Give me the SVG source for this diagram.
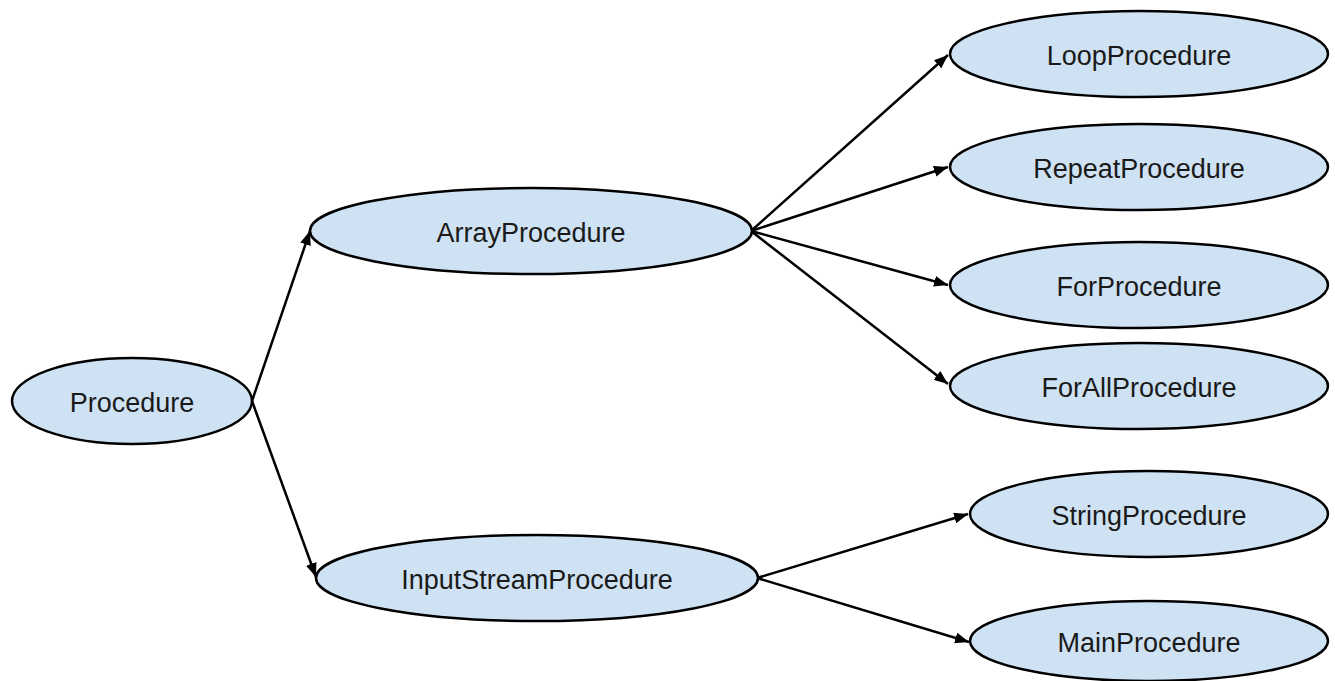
<svg xmlns="http://www.w3.org/2000/svg" width="1335" height="681" viewBox="0 0 1335 681">
<defs>
<marker id="arr" viewBox="0 0 14 11" refX="14" refY="5.5" markerWidth="14" markerHeight="11" markerUnits="userSpaceOnUse" orient="auto">
<path d="M0,0 L14,5.5 L0,11 z" fill="#000"/>
</marker>
<style>
.n ellipse{fill:#cfe2f3;stroke:#000;stroke-width:2.5}
.n text{font-family:"Liberation Sans",Arial,sans-serif;font-size:27px;fill:#1a1a1a;text-anchor:middle;dominant-baseline:central}
.e line{stroke:#000;stroke-width:2.5;marker-end:url(#arr)}
</style>
</defs>
<rect width="1335" height="681" fill="#fff"/>
<g id="connectors" class="e">
<line x1="252" y1="401" x2="310" y2="231"/>
<line x1="252" y1="401" x2="316" y2="577"/>
<line x1="751" y1="231" x2="948" y2="55"/>
<line x1="751" y1="231" x2="948" y2="167"/>
<line x1="751" y1="231" x2="948" y2="285"/>
<line x1="751" y1="231" x2="948" y2="384"/>
<line x1="757" y1="578" x2="968" y2="514"/>
<line x1="757" y1="578" x2="969" y2="642"/>
</g>
<g id="Procedure" class="n"><ellipse cx="132" cy="401" rx="120" ry="43"/><text x="132" y="403">Procedure</text></g>
<g id="ArrayProcedure" class="n"><ellipse cx="531" cy="231" rx="221" ry="43"/><text x="531" y="233">ArrayProcedure</text></g>
<g id="InputStreamProcedure" class="n"><ellipse cx="537" cy="578" rx="221" ry="43"/><text x="537" y="580">InputStreamProcedure</text></g>
<g id="LoopProcedure" class="n"><ellipse cx="1139" cy="54" rx="189" ry="43"/><text x="1139" y="56">LoopProcedure</text></g>
<g id="RepeatProcedure" class="n"><ellipse cx="1139" cy="167" rx="189" ry="43"/><text x="1139" y="169">RepeatProcedure</text></g>
<g id="ForProcedure" class="n"><ellipse cx="1139" cy="285" rx="189" ry="43"/><text x="1139" y="287">ForProcedure</text></g>
<g id="ForAllProcedure" class="n"><ellipse cx="1139" cy="386" rx="189" ry="43"/><text x="1139" y="388">ForAllProcedure</text></g>
<g id="StringProcedure" class="n"><ellipse cx="1149" cy="514" rx="179" ry="43"/><text x="1149" y="516">StringProcedure</text></g>
<g id="MainProcedure" class="n"><ellipse cx="1149" cy="641" rx="179" ry="40"/><text x="1149" y="643">MainProcedure</text></g>
</svg>
